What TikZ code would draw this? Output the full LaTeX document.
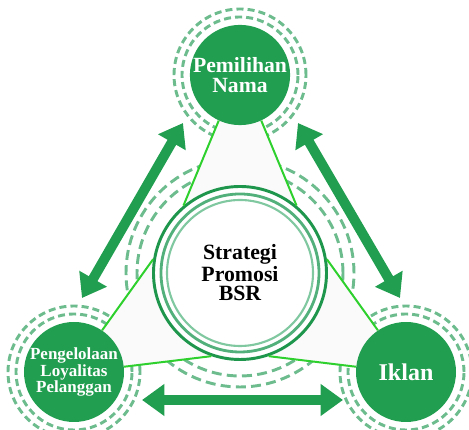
\documentclass[tikz,border=0pt]{standalone}
\usepackage{fontspec}
\setmainfont{Liberation Serif}
\usetikzlibrary{arrows.meta,backgrounds}

\definecolor{bsrgreen}{RGB}{33,158,79}
\definecolor{halogreen}{RGB}{108,188,142}
\definecolor{limegreen}{RGB}{45,208,45}
\definecolor{ringdark}{RGB}{30,150,76}
\definecolor{ringmid}{RGB}{82,176,122}
\definecolor{ringlight}{RGB}{128,200,160}

\begin{document}
\begin{tikzpicture}[x=0.03cm, y=0.03cm,
    pillar/.style={circle, fill=bsrgreen, minimum size=3cm, inner sep=0pt,
      text=white, align=center},
    hub/.style={circle, fill=white, draw=ringdark, line width=2.5pt,
      minimum size=5.19cm, inner sep=0pt, align=center,
      font=\fontsize{18.6pt}{17pt}\selectfont\bfseries},
    halo/.style={draw=halogreen, line width=2.5pt, dash pattern=on 6pt off 3.5pt},
    bighalo/.style={draw=halogreen, line width=2.5pt, dash pattern=on 8.5pt off 4.5pt},
    spoke/.style={draw=limegreen, line width=1.7pt},
    link/.style={draw=bsrgreen, line width=8.5pt,
      {Triangle[length=19pt,width=26pt]}-{Triangle[length=19pt,width=26pt]}}]
  \useasboundingbox (0, 0) rectangle (469, 430);

  \node [pillar, font=\fontsize{18.5pt}{17pt}\selectfont\bfseries] (nama) at (240, 355) {Pemilihan\\Nama};
  \node [pillar, font=\fontsize{14.5pt}{14pt}\selectfont\bfseries] (loyal) at (74, 58) {Pengelolaan\\Loyalitas\\Pelanggan};
  \node [pillar, font=\fontsize{20.5pt}{20pt}\selectfont\bfseries] (iklan) at (406, 58) {Iklan};
  \node [hub] (bsr) at (240, 157) {Strategi\\Promosi\\BSR};

  \draw [ringmid, line width=2.4pt] (bsr.center) circle (79);
  \draw [ringlight, line width=1.8pt] (bsr.center) circle (73);

  \begin{scope}[on background layer]
    \draw [bighalo] (bsr.center) circle (114);
    \draw [bighalo] (bsr.center) circle (103);
    \foreach \n in {nama, loyal, iklan} {
      \draw [halo] (\n.center) circle (58);
      \draw [halo] (\n.center) circle (66);
    }
    \fill [gray!4] (nama.245) -- (bsr.130) -- (bsr.171) -- (loyal.56) -- (loyal.6)
      -- (bsr.251) -- (bsr.289) -- (iklan.174) -- (iklan.124) -- (bsr.9)
      -- (bsr.50) -- (nama.295) -- cycle;
  \end{scope}

  \draw [spoke] (nama.245) -- (bsr.130);
  \draw [spoke] (nama.295) -- (bsr.50);
  \draw [spoke] (loyal.56) -- (bsr.171);
  \draw [spoke] (loyal.6) -- (bsr.251);
  \draw [spoke] (iklan.124) -- (bsr.9);
  \draw [spoke] (iklan.174) -- (bsr.289);

  \coordinate (ln) at (183, 307);
  \coordinate (ll) at (82, 132);
  \coordinate (rn) at (298, 307);
  \coordinate (ri) at (400, 132);
  \coordinate (bl) at (142, 30);
  \coordinate (bi) at (343, 30);

  \draw [link] (ll) -- (ln);
  \draw [link] (rn) -- (ri);
  \draw [link] (bl) -- (bi);
\end{tikzpicture}
\end{document}
